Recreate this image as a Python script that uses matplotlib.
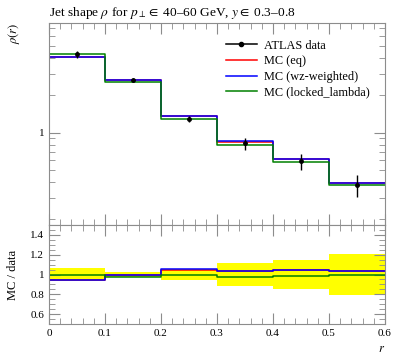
import numpy as np
import matplotlib
matplotlib.use("Agg")
import matplotlib.pyplot as plt
from matplotlib.lines import Line2D
from matplotlib.ticker import LogLocator, NullFormatter, FixedFormatter, FixedLocator, MultipleLocator

plt.rcParams['font.family'] = ['Liberation Serif', 'DejaVu Serif']
plt.rcParams['mathtext.fontset'] = 'stix'

# bin edges in r
edges = [0.0, 0.1, 0.2, 0.3, 0.4, 0.5, 0.6]
# ATLAS data
data = [4.31, 2.65, 1.30, 0.82, 0.59, 0.38]
data_relerr = [0.065, 0.025, 0.06, 0.115, 0.145, 0.205]
# MC predictions
mc_eq = [4.09, 2.65, 1.365, 0.849, 0.614, 0.395]
mc_wz = [4.09, 2.65, 1.378, 0.853, 0.617, 0.395]
mc_locked = [4.31, 2.58, 1.287, 0.800, 0.581, 0.378]

series = [
    ('MC (eq)', mc_eq, 'red'),
    ('MC (wz-weighted)', mc_wz, 'blue'),
    ('MC (locked_lambda)', mc_locked, 'green'),
]

edges = np.array(edges)
data = np.array(data)
relerr = np.array(data_relerr)
centers = 0.5 * (edges[:-1] + edges[1:])

fig = plt.figure(figsize=(3.97, 3.58), dpi=100)
left, right = 49 / 397, 385 / 397
ax = fig.add_axes([left, 1 - 225 / 358, right - left, (225 - 23) / 358])
rax = fig.add_axes([left, 1 - 324 / 358, right - left, (324 - 225) / 358], sharex=ax)

gray = '0.55'


def stepvals(v):
    return np.append(v, v[-1])


handles = [Line2D([], [], color='black', marker='o', ms=3, lw=1.1)]
labels = ['ATLAS data']
for label, vals, col in series:
    h, = ax.step(edges, stepvals(np.array(vals)), where='post', color=col, lw=1.1)
    handles.append(h)
    labels.append(label)
ax.errorbar(centers, data, yerr=data * relerr, fmt='o', color='black', ms=2.5,
            lw=1, capsize=0, zorder=5)

ax.set_yscale('log')
ax.set_ylim(0.18, 7.7)
ax.set_xlim(0, 0.6)
ax.yaxis.set_major_locator(FixedLocator([1]))
ax.yaxis.set_major_formatter(FixedFormatter(['1']))
ax.yaxis.set_minor_locator(LogLocator(base=10, subs=np.arange(2, 10) * 0.1, numticks=20))
ax.yaxis.set_minor_formatter(NullFormatter())
ax.set_ylabel(r'$\rho(r)$', loc='top', fontsize=9)
ax.yaxis.set_label_coords(-0.08, 1.0)
ax.tick_params(labelbottom=False)

ax.legend(handles, labels, frameon=False,
          loc='upper left', bbox_to_anchor=(0.5, 0.96), fontsize=8.8,
          handlelength=2.6, handletextpad=0.55, labelspacing=0.3, borderpad=0.2)

# ratio panel
lo = 1 - relerr
hi = 1 + relerr
rax.fill_between(edges, stepvals(lo), stepvals(hi), step='post', color='yellow', lw=0)
for label, vals, col in series:
    rax.step(edges, stepvals(np.array(vals) / data), where='post', color=col, lw=1.1)
rax.set_ylim(0.5, 1.5)
rax.yaxis.set_major_locator(FixedLocator([0.6, 0.8, 1.0, 1.2, 1.4]))
rax.yaxis.set_major_formatter(FixedFormatter(['0.6', '0.8', '1', '1.2', '1.4']))
rax.yaxis.set_minor_locator(MultipleLocator(0.05))
rax.xaxis.set_minor_locator(MultipleLocator(0.02))
rax.set_xticks([0, 0.1, 0.2, 0.3, 0.4, 0.5, 0.6])
rax.set_xticklabels(['0', '0.1', '0.2', '0.3', '0.4', '0.5', '0.6'])
rax.set_ylabel('MC / data', fontsize=9)
rax.yaxis.set_label_coords(-0.09, 0.5)
rax.set_xlabel(r'$r$', loc='right', fontsize=9)

for a in (ax, rax):
    a.tick_params(which='both', direction='in', top=True, right=True, colors=gray,
                  labelcolor='black', labelsize=8)
    a.tick_params(which='major', length=8)
    a.tick_params(which='minor', length=4)
    for s in a.spines.values():
        s.set_color(gray)

fig.text(left, 1 - 16 / 358,
         r'Jet shape $\rho$ for $p_\perp \in$ 40–60 GeV, $y \in$ 0.3–0.8',
         fontsize=9.6, ha='left', va='baseline')

fig.savefig('out.png', dpi=100)
